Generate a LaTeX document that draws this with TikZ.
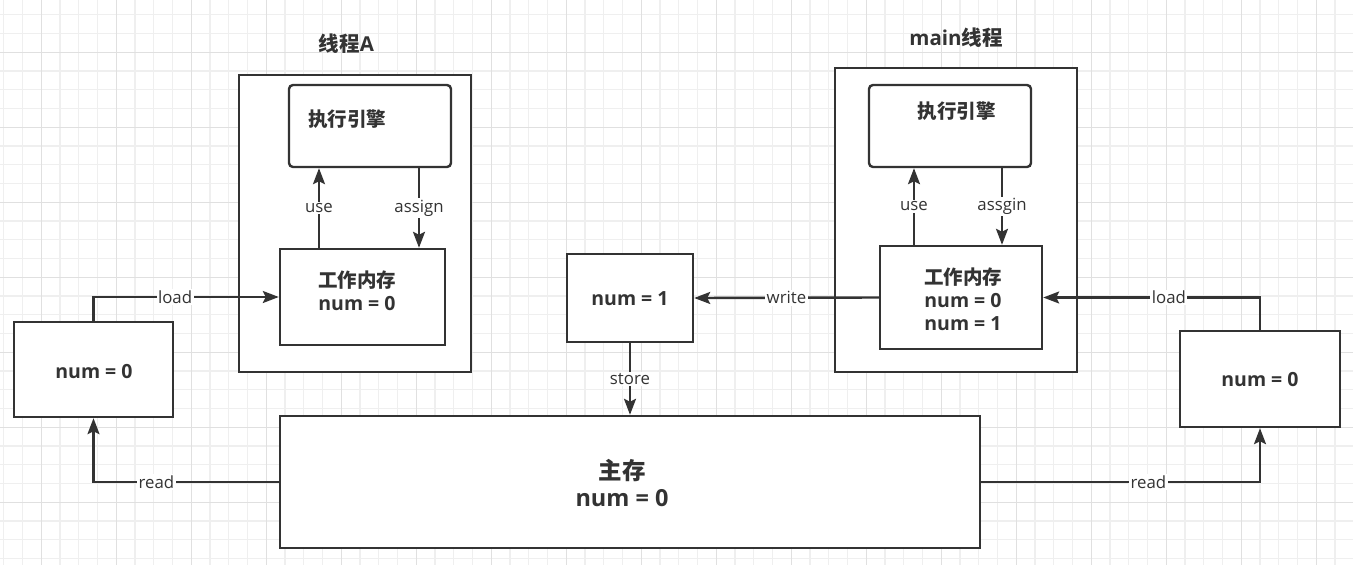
\documentclass[tikz,border=0pt]{standalone}
\usepackage{fontspec}
\setmainfont{Open Sans}
\newfontfamily\cjk{Noto Sans CJK SC}
\usetikzlibrary{arrows.meta}
\definecolor{ink}{HTML}{333333}
\definecolor{gridminor}{HTML}{EFEFEF}
\definecolor{gridmajor}{HTML}{E0E0E0}

\begin{document}
\begin{tikzpicture}[x=1pt,y=-1pt,
  box/.style={draw=ink, fill=white, line width=2.4pt, inner sep=0pt},
  engine/.style={box, rounded corners=4pt},
  boxtext/.style={text=ink, inner sep=0pt, align=center, font=\bfseries\fontsize{19.5}{23}\selectfont},
  title/.style={boxtext, font=\bfseries\fontsize{20.5}{24}\selectfont},
  bigtext/.style={boxtext, font=\bfseries\fontsize{23.5}{27}\selectfont},
  lbl/.style={text=ink, fill=white, inner sep=1.5pt, font=\fontsize{16.8}{20}\selectfont},
  arr/.style={draw=ink, line width=2.4pt, -{Stealth[length=16pt,width=12pt,inset=3pt]}}]
\useasboundingbox (0,0) rectangle (1353,565);
% grid
\fill[white] (0,0) rectangle (1353,565);
\foreach \i in {0,...,71}
  \draw[gridminor, line width=1.2pt] ({3.8+18.75*\i},0) -- ({3.8+18.75*\i},565);
\foreach \j in {0,...,29}
  \draw[gridminor, line width=1.2pt] (0,{14.8+18.75*\j}) -- (1353,{14.8+18.75*\j});
\foreach \i in {0,...,17}
  \draw[gridmajor, line width=1.2pt] ({41.3+75*\i},0) -- ({41.3+75*\i},565);
\foreach \j in {0,...,6}
  \draw[gridmajor, line width=1.2pt] (0,{52.3+75*\j}) -- (1353,{52.3+75*\j});

% boxes
\node[box, minimum width=232, minimum height=297] (thrA) at (355,223.5) {};
\node[engine, minimum width=162, minimum height=82] (engA) at (370,126) {};
\node[box, minimum width=165, minimum height=96] (wmA) at (362.5,297) {};
\node[box, minimum width=159, minimum height=95] (numL) at (93.5,369.5) {};
\node[box, minimum width=126, minimum height=88] (numOne) at (630,298) {};
\node[box, minimum width=700, minimum height=132] (mainMem) at (630,482) {};
\node[box, minimum width=242, minimum height=304] (thrM) at (956,220) {};
\node[engine, minimum width=162, minimum height=82] (engM) at (950,126) {};
\node[box, minimum width=162, minimum height=103] (wmM) at (961,297.5) {};
\node[box, minimum width=160, minimum height=96] (numR) at (1260,379) {};

% texts
\node[title] (thrAtitle) at (346.5,44) {{\cjk 线程}A};
\node[title] (thrMtitle) at (956,38) {main{\cjk 线程}};
\node[boxtext] (engAtext) at (347,119) {\cjk 执行引擎};
\node[boxtext] (engMtext) at (956.5,111.5) {\cjk 执行引擎};
\node[boxtext] (wmAtext) at (357,291) {{\cjk 工作内存}\\num = 0};
\node[boxtext] (wmMtext) at (963,299) {{\cjk 工作内存}\\num = 0\\num = 1};
\node[boxtext] (numLtext) at (94,372) {num = 0};
\node[boxtext] (numOnetext) at (630,299) {num = 1};
\node[boxtext] (numRtext) at (1260,380) {num = 0};
\node[bigtext] (mainMemtext) at (622,483) {{\cjk 主存}\\num = 0};

% connectors
\coordinate (useA) at (319,0);
\coordinate (asgA) at (419,0);
\coordinate (useM) at (914,0);
\coordinate (asgM) at (1002,0);
\draw[arr] (wmA.north -| useA) -- (engA.south -| useA) node[lbl, midway] (useAlbl) {use};
\draw[arr] (engA.south -| asgA) -- (wmA.north -| asgA) node[lbl, midway] (asgAlbl) {assign};
\draw[arr] (wmM.north -| useM) -- (engM.south -| useM) node[lbl, midway] (useMlbl) {use};
\draw[arr] (engM.south -| asgM) -- (wmM.north -| asgM) node[lbl, midway] (asgMlbl) {assgin};
\draw[arr] (numL.north) |- (wmA.west) node[lbl, pos=0.72] (loadL) {load};
\draw[arr] (mainMem.west) -| (numL.south) node[lbl, pos=0.33] (readL) {read};
\draw[arr] (wmM.west) -- (numOne.east) node[lbl, midway] (writeM) {write};
\draw[arr] (numOne.south) -- (mainMem.north) node[lbl, midway] (storeM) {store};
\draw[arr] (numR.north) |- (wmM.east) node[lbl, pos=0.71] (loadR) {load};
\draw[arr] (mainMem.east) -| (numR.south) node[lbl, pos=0.3] (readR) {read};
\end{tikzpicture}
\end{document}
